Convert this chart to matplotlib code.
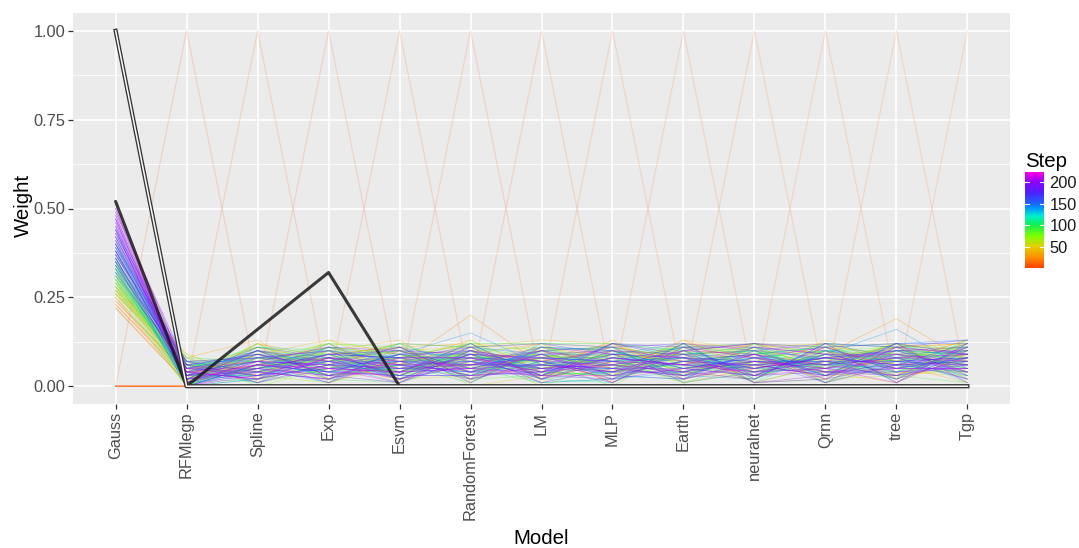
#!/usr/bin/env python3
import matplotlib as mpl
import matplotlib.pyplot as plt
import numpy as np
from matplotlib.colors import LinearSegmentedColormap, Normalize

mpl.rcParams['font.family'] = ['Liberation Sans', 'DejaVu Sans']

models = ['Gauss', 'RFMlegp', 'Spline', 'Exp', 'Esvm', 'RandomForest', 'LM',
          'MLP', 'Earth', 'neuralnet', 'Qrnn', 'tree', 'Tgp']

# first step puts everything on Gauss, the next ones on a single model each
start_step = 1
start_weights = [1.0, 0, 0, 0, 0, 0, 0, 0, 0, 0, 0, 0, 0]
unit_steps = [2, 3, 4, 5, 6, 7, 8, 9, 10, 11, 12, 13]

# selected combination
final_weights = [0.52, 0.0, 0.16, 0.32, 0, 0, 0, 0, 0, 0, 0, 0, 0]

steps = [14, 17, 21, 24, 28, 31, 35, 38, 42, 45,
         49, 52, 56, 59, 63, 66, 70, 73, 77, 80,
         84, 87, 91, 94, 98, 101, 105, 108, 112, 115,
         119, 122, 126, 129, 133, 136, 140, 143, 147, 150,
         154, 157, 161, 164, 168, 171, 175, 178, 182, 185,
         189, 192, 196, 199, 203, 206, 210, 213, 217, 221,
         16, 19, 23, 26, 30, 33, 37, 40, 44, 47,
         51, 54, 58, 61, 65, 68, 72, 75, 79, 82,
         86, 89, 93, 96, 100, 103, 107, 110, 114, 117,
         121, 124, 128, 131, 135, 138, 142, 145, 149, 152,
         156, 159, 163, 166, 170, 173, 177, 180, 184, 187,
         191, 194, 198, 201, 205, 208, 212, 215, 219, 223]

gauss = [0.23, 0.26, 0.22, 0.28, 0.25, 0.30, 0.24, 0.27, 0.31, 0.26,
         0.29, 0.33, 0.27, 0.30, 0.35, 0.28, 0.32, 0.26, 0.34, 0.30,
         0.37, 0.29, 0.33, 0.36, 0.31, 0.39, 0.28, 0.34, 0.41, 0.32,
         0.36, 0.30, 0.43, 0.35, 0.38, 0.33, 0.40, 0.45, 0.31, 0.37,
         0.42, 0.35, 0.47, 0.39, 0.33, 0.44, 0.38, 0.49, 0.36, 0.41,
         0.46, 0.34, 0.43, 0.50, 0.39, 0.45, 0.37, 0.48, 0.42, 0.51,
         0.24, 0.22, 0.27, 0.25, 0.29, 0.23, 0.28, 0.32, 0.26, 0.30,
         0.27, 0.31, 0.35, 0.29, 0.26, 0.33, 0.30, 0.36, 0.28, 0.32,
         0.34, 0.30, 0.38, 0.27, 0.35, 0.33, 0.40, 0.31, 0.37, 0.34,
         0.29, 0.39, 0.35, 0.42, 0.32, 0.38, 0.44, 0.34, 0.40, 0.36,
         0.45, 0.37, 0.41, 0.32, 0.48, 0.40, 0.35, 0.44, 0.38, 0.47,
         0.42, 0.36, 0.50, 0.40, 0.44, 0.38, 0.47, 0.43, 0.49, 0.46]
rfmlegp = [0.02, 0.05, 0.01, 0.07, 0.03, 0.00, 0.04, 0.08, 0.02, 0.06,
           0.01, 0.03, 0.09, 0.02, 0.05, 0.00, 0.04, 0.07, 0.01, 0.03,
           0.06, 0.02, 0.00, 0.05, 0.03, 0.08, 0.01, 0.04, 0.02, 0.06,
           0.00, 0.03, 0.05, 0.01, 0.07, 0.02, 0.04, 0.00, 0.06, 0.03,
           0.01, 0.05, 0.02, 0.04, 0.07, 0.00, 0.03, 0.06, 0.02, 0.05,
           0.01, 0.04, 0.03, 0.00, 0.06, 0.02, 0.05, 0.01, 0.03, 0.04,
           0.04, 0.01, 0.06, 0.00, 0.08, 0.03, 0.05, 0.02, 0.07, 0.01,
           0.04, 0.09, 0.02, 0.06, 0.00, 0.03, 0.05, 0.01, 0.08, 0.04,
           0.02, 0.06, 0.03, 0.00, 0.07, 0.01, 0.05, 0.03, 0.06, 0.02,
           0.04, 0.00, 0.07, 0.03, 0.01, 0.05, 0.02, 0.06, 0.00, 0.04,
           0.03, 0.07, 0.01, 0.05, 0.02, 0.04, 0.00, 0.06, 0.03, 0.01,
           0.05, 0.02, 0.04, 0.07, 0.01, 0.03, 0.00, 0.05, 0.02, 0.04]
spline = [0.10, 0.07, 0.12, 0.04, 0.09, 0.06, 0.11, 0.03, 0.08, 0.05,
          0.12, 0.06, 0.02, 0.09, 0.04, 0.10, 0.07, 0.01, 0.08, 0.05,
          0.03, 0.09, 0.06, 0.11, 0.04, 0.07, 0.02, 0.10, 0.05, 0.08,
          0.06, 0.03, 0.09, 0.04, 0.07, 0.10, 0.02, 0.06, 0.08, 0.05,
          0.03, 0.09, 0.04, 0.07, 0.01, 0.06, 0.08, 0.03, 0.10, 0.05,
          0.07, 0.02, 0.06, 0.04, 0.09, 0.05, 0.03, 0.07, 0.04, 0.06,
          0.05, 0.11, 0.03, 0.08, 0.13, 0.06, 0.01, 0.09, 0.04, 0.12,
          0.07, 0.02, 0.10, 0.05, 0.08, 0.03, 0.11, 0.06, 0.00, 0.09,
          0.04, 0.07, 0.12, 0.02, 0.08, 0.05, 0.10, 0.03, 0.06, 0.11,
          0.01, 0.08, 0.04, 0.07, 0.10, 0.03, 0.05, 0.09, 0.02, 0.07,
          0.11, 0.04, 0.06, 0.08, 0.03, 0.10, 0.05, 0.01, 0.07, 0.09,
          0.04, 0.06, 0.02, 0.08, 0.05, 0.10, 0.03, 0.07, 0.06, 0.02]
exp_ = [0.06, 0.11, 0.08, 0.10, 0.05, 0.12, 0.07, 0.09, 0.03, 0.11,
        0.06, 0.08, 0.13, 0.05, 0.09, 0.07, 0.02, 0.10, 0.06, 0.08,
        0.11, 0.04, 0.07, 0.09, 0.05, 0.03, 0.10, 0.06, 0.08, 0.04,
        0.09, 0.07, 0.05, 0.11, 0.03, 0.08, 0.06, 0.04, 0.10, 0.07,
        0.05, 0.02, 0.09, 0.06, 0.08, 0.04, 0.07, 0.05, 0.03, 0.09,
        0.06, 0.08, 0.04, 0.07, 0.05, 0.03, 0.08, 0.06, 0.02, 0.05,
        0.09, 0.03, 0.12, 0.07, 0.01, 0.10, 0.05, 0.13, 0.08, 0.02,
        0.11, 0.06, 0.04, 0.09, 0.12, 0.01, 0.07, 0.10, 0.05, 0.03,
        0.08, 0.12, 0.02, 0.06, 0.09, 0.11, 0.04, 0.07, 0.01, 0.10,
        0.05, 0.08, 0.12, 0.03, 0.06, 0.09, 0.01, 0.07, 0.11, 0.04,
        0.08, 0.02, 0.10, 0.05, 0.07, 0.03, 0.09, 0.06, 0.11, 0.04,
        0.02, 0.08, 0.06, 0.10, 0.03, 0.07, 0.09, 0.01, 0.05, 0.08]
esvm = [0.04, 0.09, 0.12, 0.06, 0.10, 0.03, 0.08, 0.11, 0.05, 0.07,
        0.02, 0.10, 0.06, 0.09, 0.04, 0.11, 0.07, 0.05, 0.08, 0.03,
        0.09, 0.06, 0.10, 0.02, 0.07, 0.05, 0.08, 0.04, 0.06, 0.09,
        0.03, 0.07, 0.05, 0.08, 0.06, 0.02, 0.09, 0.05, 0.07, 0.04,
        0.08, 0.06, 0.03, 0.07, 0.05, 0.09, 0.02, 0.06, 0.04, 0.08,
        0.05, 0.07, 0.03, 0.06, 0.04, 0.08, 0.05, 0.02, 0.07, 0.04,
        0.11, 0.06, 0.02, 0.10, 0.07, 0.13, 0.04, 0.09, 0.01, 0.08,
        0.05, 0.12, 0.08, 0.03, 0.10, 0.06, 0.12, 0.02, 0.09, 0.07,
        0.04, 0.11, 0.01, 0.08, 0.10, 0.03, 0.06, 0.12, 0.09, 0.02,
        0.07, 0.10, 0.04, 0.12, 0.01, 0.08, 0.11, 0.03, 0.06, 0.09,
        0.02, 0.10, 0.07, 0.04, 0.11, 0.01, 0.08, 0.05, 0.10, 0.03,
        0.09, 0.06, 0.11, 0.02, 0.07, 0.04, 0.10, 0.08, 0.01, 0.06]
random_forest = [0.08, 0.05, 0.11, 0.20, 0.07, 0.10, 0.04, 0.12, 0.06, 0.09,
                 0.03, 0.11, 0.07, 0.05, 0.10, 0.08, 0.02, 0.06, 0.09, 0.12,
                 0.04, 0.07, 0.05, 0.10, 0.08, 0.03, 0.06, 0.09, 0.04, 0.07,
                 0.11, 0.05, 0.08, 0.03, 0.06, 0.09, 0.15, 0.04, 0.07, 0.05,
                 0.08, 0.10, 0.03, 0.06, 0.09, 0.04, 0.07, 0.02, 0.05, 0.08,
                 0.06, 0.03, 0.09, 0.04, 0.07, 0.05, 0.08, 0.06, 0.03, 0.05,
                 0.02, 0.12, 0.09, 0.05, 0.13, 0.01, 0.10, 0.06, 0.11, 0.03,
                 0.08, 0.00, 0.12, 0.09, 0.04, 0.11, 0.06, 0.13, 0.03, 0.08,
                 0.10, 0.02, 0.07, 0.12, 0.05, 0.09, 0.01, 0.11, 0.06, 0.10,
                 0.03, 0.08, 0.12, 0.05, 0.10, 0.02, 0.07, 0.11, 0.04, 0.09,
                 0.06, 0.01, 0.10, 0.12, 0.04, 0.08, 0.11, 0.05, 0.09, 0.03,
                 0.10, 0.07, 0.02, 0.09, 0.06, 0.11, 0.04, 0.08, 0.10, 0.06]
lm = [0.05, 0.08, 0.03, 0.06, 0.11, 0.07, 0.09, 0.02, 0.10, 0.04,
      0.08, 0.05, 0.12, 0.06, 0.03, 0.09, 0.07, 0.11, 0.04, 0.06,
      0.08, 0.10, 0.05, 0.03, 0.07, 0.09, 0.06, 0.04, 0.11, 0.05,
      0.08, 0.06, 0.02, 0.07, 0.09, 0.04, 0.06, 0.08, 0.03, 0.10,
      0.05, 0.07, 0.04, 0.06, 0.08, 0.03, 0.05, 0.07, 0.09, 0.02,
      0.06, 0.04, 0.07, 0.05, 0.03, 0.06, 0.04, 0.08, 0.05, 0.03,
      0.10, 0.02, 0.12, 0.08, 0.04, 0.11, 0.01, 0.07, 0.13, 0.05,
      0.09, 0.03, 0.10, 0.00, 0.08, 0.12, 0.05, 0.02, 0.10, 0.07,
      0.11, 0.03, 0.08, 0.12, 0.01, 0.06, 0.10, 0.04, 0.09, 0.02,
      0.11, 0.07, 0.03, 0.10, 0.05, 0.12, 0.01, 0.09, 0.06, 0.03,
      0.08, 0.11, 0.05, 0.02, 0.10, 0.07, 0.12, 0.04, 0.01, 0.09,
      0.03, 0.10, 0.06, 0.08, 0.11, 0.02, 0.09, 0.04, 0.07, 0.10]
mlp = [0.09, 0.12, 0.06, 0.04, 0.08, 0.11, 0.05, 0.10, 0.07, 0.03,
       0.09, 0.06, 0.04, 0.12, 0.08, 0.05, 0.10, 0.07, 0.03, 0.09,
       0.06, 0.11, 0.08, 0.04, 0.10, 0.06, 0.07, 0.03, 0.05, 0.09,
       0.07, 0.10, 0.04, 0.06, 0.02, 0.08, 0.05, 0.07, 0.09, 0.03,
       0.06, 0.04, 0.08, 0.05, 0.07, 0.10, 0.04, 0.06, 0.03, 0.07,
       0.05, 0.09, 0.02, 0.06, 0.08, 0.04, 0.06, 0.05, 0.07, 0.03,
       0.03, 0.07, 0.11, 0.01, 0.13, 0.05, 0.09, 0.02, 0.12, 0.08,
       0.04, 0.10, 0.01, 0.07, 0.11, 0.03, 0.09, 0.12, 0.06, 0.00,
       0.10, 0.04, 0.08, 0.12, 0.02, 0.09, 0.11, 0.05, 0.07, 0.01,
       0.10, 0.03, 0.12, 0.08, 0.05, 0.11, 0.02, 0.09, 0.04, 0.12,
       0.07, 0.10, 0.01, 0.08, 0.11, 0.03, 0.09, 0.12, 0.05, 0.10,
       0.02, 0.07, 0.11, 0.04, 0.09, 0.12, 0.01, 0.08, 0.10, 0.06]
earth = [0.07, 0.04, 0.09, 0.13, 0.06, 0.08, 0.11, 0.05, 0.03, 0.10,
         0.07, 0.04, 0.08, 0.06, 0.11, 0.03, 0.09, 0.05, 0.07, 0.10,
         0.02, 0.06, 0.09, 0.07, 0.04, 0.08, 0.11, 0.05, 0.06, 0.03,
         0.08, 0.05, 0.07, 0.09, 0.04, 0.06, 0.03, 0.08, 0.05, 0.07,
         0.10, 0.04, 0.06, 0.08, 0.03, 0.05, 0.09, 0.04, 0.07, 0.06,
         0.03, 0.08, 0.05, 0.02, 0.06, 0.07, 0.04, 0.03, 0.06, 0.05,
         0.12, 0.08, 0.01, 0.10, 0.03, 0.12, 0.07, 0.11, 0.02, 0.09,
         0.13, 0.05, 0.10, 0.01, 0.08, 0.12, 0.03, 0.10, 0.06, 0.11,
         0.04, 0.12, 0.01, 0.09, 0.07, 0.11, 0.02, 0.10, 0.08, 0.12,
         0.05, 0.02, 0.10, 0.07, 0.11, 0.01, 0.09, 0.12, 0.04, 0.08,
         0.11, 0.03, 0.10, 0.06, 0.12, 0.02, 0.08, 0.11, 0.05, 0.09,
         0.12, 0.04, 0.07, 0.10, 0.02, 0.09, 0.11, 0.06, 0.08, 0.10]
neuralnet = [0.03, 0.07, 0.10, 0.05, 0.12, 0.04, 0.08, 0.06, 0.11, 0.09,
             0.05, 0.02, 0.07, 0.10, 0.06, 0.08, 0.04, 0.11, 0.09, 0.03,
             0.07, 0.05, 0.10, 0.08, 0.06, 0.04, 0.09, 0.07, 0.03, 0.10,
             0.05, 0.08, 0.06, 0.04, 0.09, 0.07, 0.02, 0.05, 0.08, 0.06,
             0.04, 0.07, 0.09, 0.03, 0.06, 0.08, 0.05, 0.07, 0.04, 0.06,
             0.08, 0.05, 0.03, 0.07, 0.04, 0.06, 0.09, 0.05, 0.04, 0.07,
             0.08, 0.12, 0.05, 0.01, 0.09, 0.11, 0.03, 0.12, 0.06, 0.02,
             0.10, 0.07, 0.12, 0.04, 0.01, 0.09, 0.11, 0.06, 0.02, 0.10,
             0.12, 0.01, 0.07, 0.11, 0.09, 0.03, 0.12, 0.05, 0.10, 0.02,
             0.08, 0.11, 0.01, 0.09, 0.12, 0.04, 0.10, 0.02, 0.11, 0.07,
             0.03, 0.09, 0.12, 0.05, 0.01, 0.10, 0.07, 0.11, 0.03, 0.08,
             0.10, 0.02, 0.09, 0.12, 0.06, 0.01, 0.08, 0.11, 0.03, 0.09]
qrnn = [0.10, 0.06, 0.04, 0.09, 0.07, 0.11, 0.05, 0.08, 0.12, 0.06,
        0.04, 0.09, 0.07, 0.03, 0.10, 0.06, 0.08, 0.05, 0.11, 0.07,
        0.04, 0.09, 0.06, 0.10, 0.03, 0.08, 0.05, 0.07, 0.09, 0.04,
        0.06, 0.10, 0.08, 0.05, 0.03, 0.07, 0.09, 0.04, 0.06, 0.08,
        0.05, 0.07, 0.03, 0.09, 0.06, 0.04, 0.08, 0.05, 0.07, 0.03,
        0.06, 0.08, 0.04, 0.05, 0.07, 0.03, 0.06, 0.08, 0.05, 0.04,
        0.02, 0.09, 0.12, 0.06, 0.10, 0.01, 0.13, 0.04, 0.08, 0.11,
        0.03, 0.07, 0.11, 0.09, 0.02, 0.12, 0.05, 0.08, 0.10, 0.01,
        0.09, 0.06, 0.12, 0.03, 0.11, 0.07, 0.01, 0.10, 0.04, 0.12,
        0.08, 0.02, 0.10, 0.11, 0.06, 0.09, 0.03, 0.12, 0.07, 0.01,
        0.10, 0.05, 0.11, 0.08, 0.02, 0.12, 0.06, 0.09, 0.11, 0.04,
        0.08, 0.12, 0.01, 0.10, 0.07, 0.03, 0.11, 0.09, 0.05, 0.02]
tree = [0.06, 0.10, 0.08, 0.19, 0.11, 0.05, 0.09, 0.07, 0.04, 0.12,
        0.08, 0.06, 0.03, 0.10, 0.07, 0.09, 0.05, 0.11, 0.06, 0.04,
        0.09, 0.07, 0.12, 0.05, 0.08, 0.06, 0.10, 0.04, 0.07, 0.09,
        0.05, 0.08, 0.03, 0.06, 0.10, 0.07, 0.16, 0.05, 0.08, 0.06,
        0.09, 0.04, 0.07, 0.05, 0.08, 0.06, 0.10, 0.03, 0.07, 0.05,
        0.08, 0.06, 0.04, 0.07, 0.05, 0.09, 0.03, 0.06, 0.08, 0.05,
        0.11, 0.03, 0.07, 0.12, 0.02, 0.10, 0.06, 0.01, 0.11, 0.09,
        0.04, 0.12, 0.07, 0.10, 0.03, 0.08, 0.12, 0.02, 0.11, 0.06,
        0.09, 0.03, 0.11, 0.07, 0.12, 0.02, 0.08, 0.10, 0.04, 0.11,
        0.06, 0.12, 0.09, 0.01, 0.10, 0.05, 0.12, 0.08, 0.02, 0.11,
        0.07, 0.12, 0.04, 0.10, 0.06, 0.01, 0.11, 0.08, 0.12, 0.03,
        0.09, 0.11, 0.06, 0.02, 0.10, 0.12, 0.05, 0.09, 0.01, 0.11]
tgp = [0.08, 0.05, 0.10, 0.07, 0.12, 0.09, 0.06, 0.13, 0.04, 0.08,
       0.10, 0.07, 0.05, 0.09, 0.06, 0.11, 0.04, 0.08, 0.07, 0.10,
       0.05, 0.09, 0.06, 0.08, 0.11, 0.04, 0.07, 0.09, 0.05, 0.06,
       0.08, 0.10, 0.07, 0.03, 0.09, 0.06, 0.05, 0.08, 0.04, 0.07,
       0.10, 0.06, 0.08, 0.05, 0.09, 0.07, 0.04, 0.06, 0.08, 0.05,
       0.07, 0.09, 0.05, 0.06, 0.08, 0.04, 0.07, 0.06, 0.09, 0.05,
       0.04, 0.10, 0.13, 0.02, 0.08, 0.11, 0.01, 0.09, 0.12, 0.06,
       0.03, 0.10, 0.12, 0.07, 0.11, 0.02, 0.09, 0.13, 0.04, 0.12,
       0.08, 0.01, 0.11, 0.10, 0.03, 0.12, 0.06, 0.09, 0.13, 0.02,
       0.11, 0.07, 0.01, 0.12, 0.05, 0.10, 0.13, 0.03, 0.11, 0.09,
       0.02, 0.12, 0.08, 0.11, 0.04, 0.10, 0.13, 0.02, 0.09, 0.11,
       0.06, 0.03, 0.12, 0.08, 0.10, 0.01, 0.11, 0.07, 0.12, 0.09]

step_range = (1, 223)
step_ticks = [50, 100, 150, 200]

step_cmap = LinearSegmentedColormap.from_list('step', [
    (0.00, '#FF4000'), (0.11, '#FF9000'), (0.22, '#E8CC00'),
    (0.33, '#80FF00'), (0.45, '#10F050'), (0.54, '#00F0D0'),
    (0.63, '#0090FF'), (0.68, '#2060FF'), (0.79, '#5020FF'),
    (0.90, '#9000FF'), (1.00, '#FF00E0')])
norm = Normalize(*step_range)


def main():
    fig = plt.figure(figsize=(10.79, 5.48), dpi=100)
    W, H = 1079, 548
    ax = fig.add_axes([73 / W, 1 - 404 / H, 937 / W, 391 / H])
    ax.set_facecolor('#EBEBEB')
    for sp in ax.spines.values():
        sp.set_visible(False)

    xs = np.arange(len(models))
    ax.set_xlim(-0.6, len(models) - 0.4)
    ax.set_ylim(-0.05, 1.05)
    ax.set_xticks(xs)
    ax.set_xticklabels(models, rotation=90, va='top')
    ax.set_yticks([0, 0.25, 0.5, 0.75, 1.0])
    ax.set_yticklabels(['0.00', '0.25', '0.50', '0.75', '1.00'])
    ax.set_yticks([0.125, 0.375, 0.625, 0.875], minor=True)
    ax.grid(which='major', color='white', lw=1.2)
    ax.grid(which='minor', axis='y', color='white', lw=0.6)
    ax.set_axisbelow(True)
    ax.tick_params(which='major', length=3.5, width=0.9, color='#333333',
                   labelsize=11.8, labelcolor='#4D4D4D', pad=2)
    ax.tick_params(which='minor', length=0)

    # one-model starting points
    for k, s in enumerate(unit_steps):
        w = np.zeros(len(models))
        w[k + 1] = 1.0
        ax.plot(xs, w, color=step_cmap(norm(s)), alpha=0.15, lw=0.9)

    weights = np.column_stack([gauss, rfmlegp, spline, exp_, esvm,
                               random_forest, lm, mlp, earth, neuralnet,
                               qrnn, tree, tgp])
    order = np.argsort(steps)
    for i in order:
        ax.plot(xs, weights[i], color=step_cmap(norm(steps[i])),
                alpha=0.35, lw=0.6)

    # chosen weights, under the outlined Gauss-only start
    ax.plot(xs, final_weights, color='#1A1A1A', lw=2.2, alpha=0.85,
            solid_capstyle='round', zorder=5)
    ax.plot(xs, start_weights, color='#333333', lw=3.0, zorder=6)
    ax.plot(xs, start_weights, color='white', lw=1.1, zorder=7)

    fig.text(541.5 / W, 1 - 538 / H, 'Model', fontsize=14.7,
             ha='center', va='center')
    fig.text(23.5 / W, 1 - 205 / H, 'Weight', fontsize=14.7,
             ha='center', va='center', rotation=90)

    # colour bar legend
    top, bot = 172, 268
    cax = fig.add_axes([1025 / W, 1 - bot / H, 19 / W, (bot - top) / H])
    grad = np.linspace(*step_range, 256).reshape(-1, 1)
    cax.imshow(grad, aspect='auto', cmap=step_cmap, norm=norm, origin='lower',
               extent=[0, 1, step_range[0], step_range[1]])
    cax.set_xlim(0, 1)
    cax.set_ylim(*step_range)
    cax.set_xticks([])
    cax.yaxis.tick_right()
    cax.set_yticks(step_ticks)
    cax.tick_params(axis='y', length=0, labelsize=11.8, pad=4,
                    labelcolor='#1A1A1A')
    for sp in cax.spines.values():
        sp.set_visible(False)
    for t in step_ticks:
        cax.plot([0, 0.2], [t, t], color='white', lw=0.8)
        cax.plot([0.8, 1], [t, t], color='white', lw=0.8)
    fig.text(1025 / W, 1 - 167 / H, 'Step', fontsize=14.7, va='baseline')

    fig.savefig('out.png', dpi=100)


if __name__ == '__main__':
    main()
